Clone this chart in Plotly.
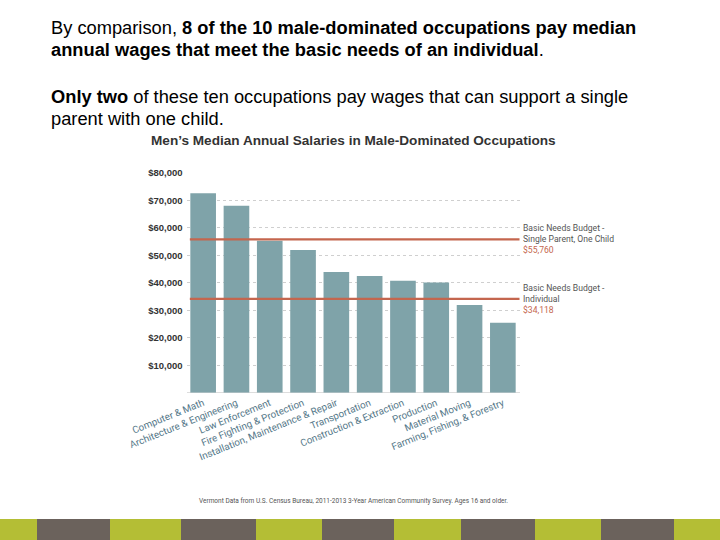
import plotly.graph_objects as go

# ---- data ----
occupations = [
    "Computer & Math",
    "Architecture & Engineering",
    "Law Enforcement",
    "Fire Fighting & Protection",
    "Installation, Maintenance & Repair",
    "Transportation",
    "Construction & Extraction",
    "Production",
    "Material Moving",
    "Farming, Fishing, & Forestry",
]
median_salary = [72500, 68000, 55300, 51900, 43900, 42400, 40700, 40100, 31900, 25400]

budget_names = ["Basic Needs Budget -<br>Single Parent, One Child", "Basic Needs Budget -<br>Individual"]
budget_values = [55760, 34118]

y_ticks = [10000, 20000, 30000, 40000, 50000, 60000, 70000, 80000]
y_tick_labels = ["$10,000", "$20,000", "$30,000", "$40,000", "$50,000", "$60,000", "$70,000", "$80,000"]

header_lines = [
    "By comparison, <b>8 of the 10 male-dominated occupations pay median</b>",
    "<b>annual wages that meet the basic needs of an individual</b>.",
    "<b>Only two</b> of these ten occupations pay wages that can support a single",
    "parent with one child.",
]
chart_title = "Men\u2019s Median Annual Salaries in Male-Dominated Occupations"
footer = "Vermont Data from U.S. Census Bureau, 2011-2013 3-Year American Community Survey. Ages 16 and older."

# decorative stripe edges (pixels) along the bottom of the slide
stripe_edges = [0, 37, 110, 181, 256, 322, 394, 461, 535, 601, 674, 720]

BAR = "#7fa3a9"
RED = "#c4664e"
NARROW = "Roboto, Liberation Sans, Arial"
SANS = "Liberation Sans, Arial, Helvetica, sans-serif"

W, H = 720, 540

fig = go.Figure()
fig.add_trace(go.Bar(
    x=occupations, y=median_salary, marker=dict(color=BAR, line=dict(width=0)),
    hoverinfo="x+y",
))

shapes = []
annotations = []

for name, val in zip(budget_names, budget_values):
    shapes.append(dict(type="line", xref="x domain", yref="y", x0=0.01, x1=1.0, y0=val, y1=val,
                       line=dict(color=RED, width=2.2), layer="above"))
    annotations.append(dict(
        xref="x domain", yref="y", x=1.006, y=val, xanchor="left", yanchor="middle",
        text=f"{name}<br><span style='color:{RED}'>${val:,}</span>",
        showarrow=False, align="left",
        font=dict(family=NARROW, size=8.6, color="#555555"),
    ))

# header text lines
header_y = [28, 50, 96, 118]
for line, py in zip(header_lines, header_y):
    annotations.append(dict(
        xref="paper", yref="paper", x=49 / W, y=1 - py / H, xanchor="left", yanchor="middle",
        text=line, showarrow=False, align="left",
        font=dict(family=SANS, size=18.3, color="#000000"),
    ))

annotations.append(dict(
    xref="paper", yref="paper", x=353 / W, y=1 - 140 / H, xanchor="center", yanchor="middle",
    text=f"<b>{chart_title}</b>", showarrow=False,
    font=dict(family=SANS, size=13.6, color="#333333"),
))
annotations.append(dict(
    xref="paper", yref="paper", x=353 / W, y=1 - 501 / H, xanchor="center", yanchor="middle",
    text=footer, showarrow=False,
    font=dict(family=NARROW, size=6.5, color="#555555"),
))

colors = ["#b4be35", "#6b625c"]
for i in range(len(stripe_edges) - 1):
    shapes.append(dict(type="rect", xref="paper", yref="paper",
                       x0=stripe_edges[i] / W, x1=stripe_edges[i + 1] / W,
                       y0=0, y1=21 / H, line=dict(width=0),
                       fillcolor=colors[i % 2], layer="below"))

fig.update_layout(
    width=W, height=H,
    margin=dict(l=0, r=0, t=0, b=0, autoexpand=False),
    paper_bgcolor="white", plot_bgcolor="white",
    showlegend=False,
    bargap=0.23,
    shapes=shapes, annotations=annotations,
    xaxis=dict(
        domain=[186.5 / W, 519.5 / W],
        tickangle=-22, tickfont=dict(family=NARROW, size=9.8, color="#557889"),
        showgrid=False, showline=False, ticks="", fixedrange=True,
        ticklabelstandoff=2,
    ),
    yaxis=dict(
        domain=[147.3 / H, 367.3 / H],
        range=[0, 80000],
        tickvals=y_ticks, ticktext=y_tick_labels,
        tickfont=dict(family=SANS, size=9.5, color="#333333", weight="bold"),
        showgrid=True, gridcolor="#cfcfcf", griddash="dot", gridwidth=1,
        zeroline=True, zerolinecolor="#dddddd", zerolinewidth=1,
        showline=False, ticks="", ticklabelstandoff=3, fixedrange=True,
    ),
)

fig.write_html(
    "out.html",
    config={"displayModeBar": False},
    post_script="document.body.style.margin='0';document.body.style.overflow='hidden';",
)
